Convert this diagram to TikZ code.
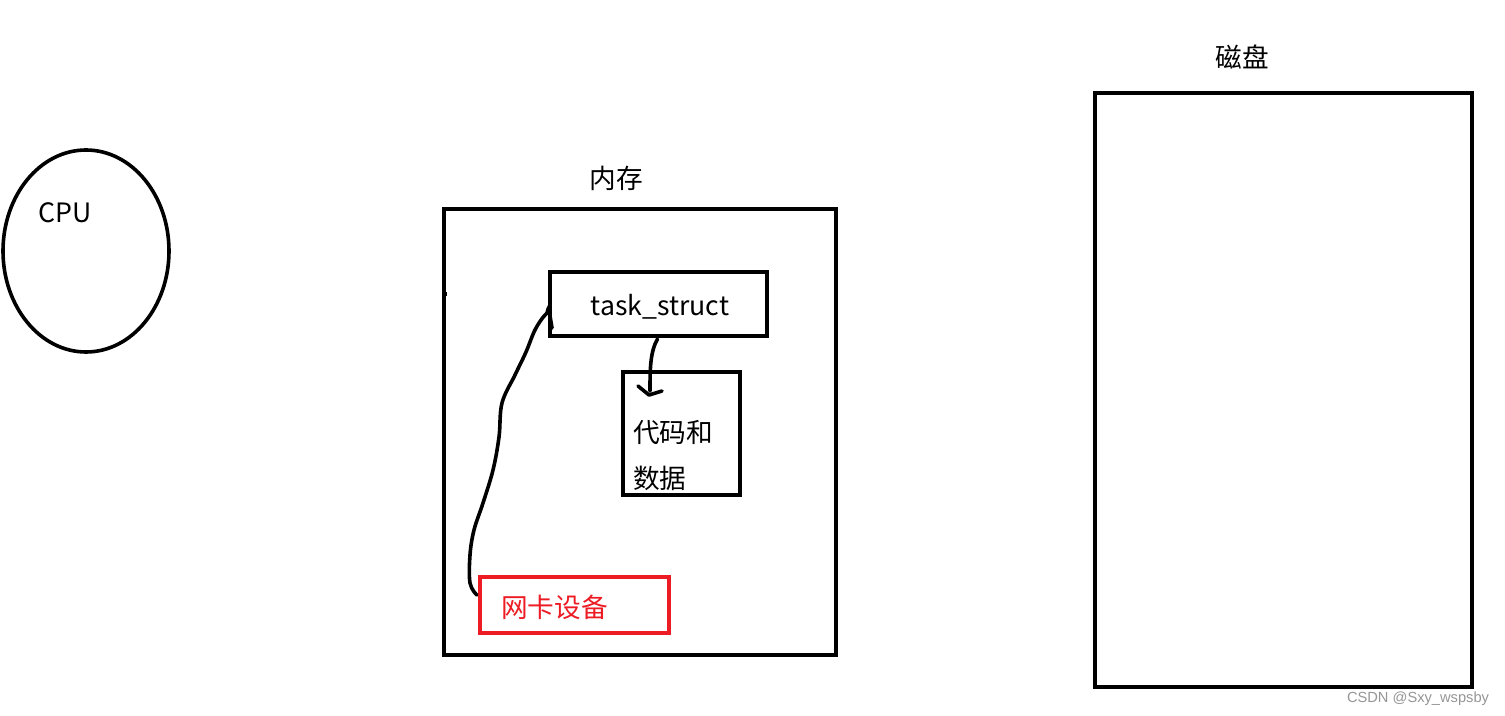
\documentclass[tikz,border=0pt]{standalone}
\usepackage{fontspec}
\setmainfont{Noto Sans CJK SC}
\newfontfamily\wmfont{Liberation Sans}
\definecolor{nicred}{RGB}{237,28,36}
\definecolor{wmgray}{RGB}{150,150,150}
\usetikzlibrary{calc,shapes.geometric}
\tikzset{
  box/.style={draw=black, line width=3.3pt, minimum width=#1, inner sep=0pt, outer sep=0pt},
  lbl/.style={font=\fontsize{20pt}{24pt}\selectfont, inner sep=0pt},
  curve/.style={line width=2.7pt, line cap=round, line join=round}
}
\begin{document}
\begin{tikzpicture}[x=0.75pt,y=-0.75pt]
\useasboundingbox[fill=white] (0,0) rectangle (1505,716);
% CPU
\node[draw, line width=2.7pt, ellipse, minimum width=166*0.75pt, minimum height=202*0.75pt, inner sep=0pt] (cpu) at (86,251) {};
\node[lbl] (cputxt) at (65,213) {CPU};
% memory
\node[lbl] (memlbl) at (616,178) {内存};
\node[box=392*0.75pt, minimum height=446*0.75pt] (mem) at (640,432) {};
\draw[line width=2.7pt] (mem.west |- 0,294) -- ++(3,0);
% task_struct
\node[box=217*0.75pt, minimum height=64*0.75pt] (ts) at (658.5,304) {};
\node[lbl] (tstxt) at (660,307) {task\_struct};
% code & data
\node[box=117*0.75pt, minimum height=123*0.75pt] (code) at (681.5,433.5) {};
\node[lbl, anchor=west] (codet1) at (633,433) {代码和};
\node[lbl, anchor=west] (codet2) at (633,478) {数据};
% NIC
\node[draw=nicred, line width=3.3pt, minimum width=189*0.75pt, minimum height=56*0.75pt, inner sep=0pt] (nic) at (574.5,605) {};
\node[lbl, text=nicred, anchor=west] (nict) at (501,607) {网卡设备};
% disk
\node[lbl] (disklbl) at (1242,57) {磁盘};
\node[box=377*0.75pt, minimum height=594*0.75pt] (disk) at (1283.5,390) {};
% arrow task_struct -> code
\coordinate (a0) at ($(ts.south)+(-1,3)$);
\coordinate (a1) at (650,391);
\draw[curve] (a0) .. controls (650,352) and (650,370) .. (a1);
\draw[curve] (638,386) -- (649,395) -- (662,391);
% curve task_struct -> nic
\coordinate (c0) at ($(ts.west)+(0,1)$);
\coordinate (c1) at ($(nic.west)+(-1,-10)$);
\draw[curve] (c0) to[out=250,in=90] (547,313)
  plot[smooth, tension=0.6] coordinates {(547,313) (541,320) (534,332) (526,352) (515,375) (502,403) (499,437) (493,470) (483,503) (474,530) (470,555) (470,583) (c1)};
\draw[curve] (550,316) -- (552,328);
% watermark
\node[font=\wmfont\fontsize{11pt}{13pt}\selectfont, text=wmgray, inner sep=0pt] (wm) at (1418,699) {CSDN @Sxy\_wspsby};
\end{tikzpicture}
\end{document}
